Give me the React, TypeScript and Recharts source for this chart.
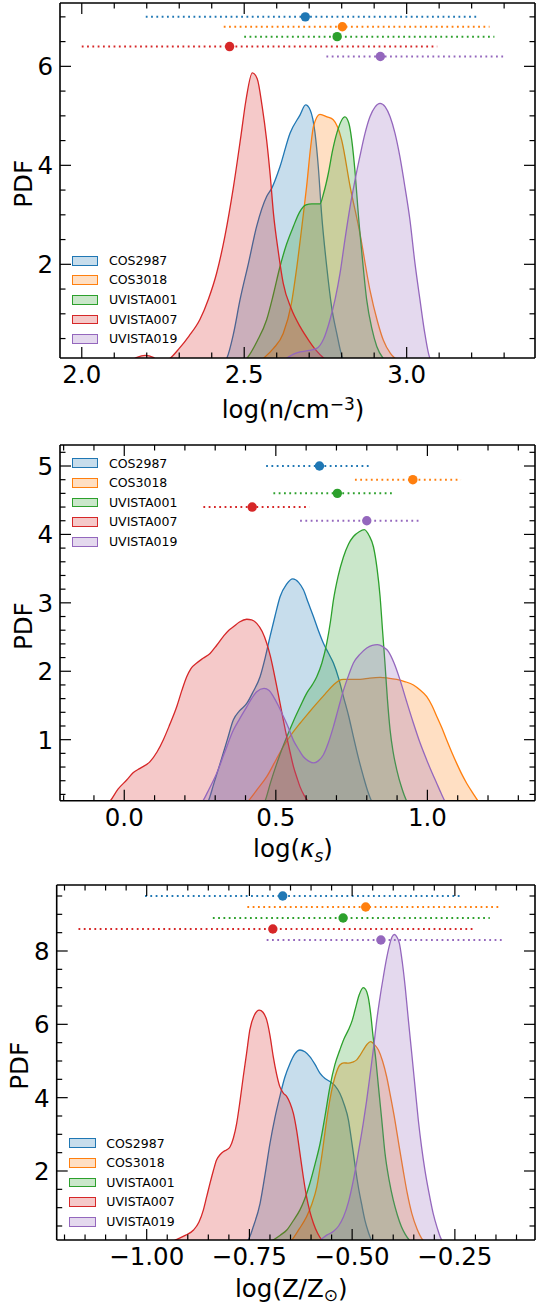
import React from "react";
import { ComposedChart, Area, Line, Scatter, XAxis, YAxis, Legend } from "recharts";

const FONT = "DejaVu Sans, sans-serif";

const names = ["COS2987", "COS3018", "UVISTA001", "UVISTA007", "UVISTA019"];
const colors = ["#1f77b4", "#ff7f0e", "#2ca02c", "#d62728", "#9467bd"];

type Pt = [number, number];

// ---- panel 1: log(n/cm^-3) ----
const nCOS2987: Pt[] = [[2.43, 0], [2.446, 0.1], [2.467, 0.6], [2.487, 1.28], [2.513, 2.02], [2.538, 2.76], [2.569, 3.37], [2.585, 3.54], [2.61, 3.97], [2.641, 4.65], [2.672, 5.02], [2.689, 5.22], [2.703, 5.12], [2.718, 4.65], [2.728, 3.97], [2.738, 3.03], [2.754, 1.95], [2.769, 1.14], [2.785, 0.6], [2.8, 0.16], [2.815, 0]];
const nCOS3018: Pt[] = [[2.54, 0], [2.559, 0.1], [2.59, 0.3], [2.62, 0.6], [2.645, 1.2], [2.662, 1.95], [2.68, 2.9], [2.692, 3.57], [2.705, 4.4], [2.713, 4.78], [2.733, 5.03], [2.755, 4.98], [2.774, 4.92], [2.8, 4.51], [2.826, 3.57], [2.856, 2.63], [2.887, 1.48], [2.91, 0.85], [2.928, 0.47], [2.95, 0.2], [2.964, 0.1], [2.99, 0]];
const nUVISTA001: Pt[] = [[2.49, 0], [2.508, 0.1], [2.54, 0.45], [2.569, 0.88], [2.59, 1.4], [2.61, 1.95], [2.63, 2.4], [2.651, 2.76], [2.67, 3.05], [2.69, 3.2], [2.708, 3.22], [2.733, 3.22], [2.745, 3.45], [2.759, 3.84], [2.772, 4.3], [2.785, 4.65], [2.81, 4.98], [2.822, 4.85], [2.831, 4.51], [2.842, 3.8], [2.851, 3.03], [2.864, 2.1], [2.877, 1.28], [2.893, 0.7], [2.908, 0.34], [2.928, 0.1], [2.95, 0]];
const nUVISTA007: Pt[] = [[2.14, 0], [2.17, 0.12], [2.195, 0.16], [2.22, 0.12], [2.245, 0], [2.272, 0.1], [2.3, 0.3], [2.33, 0.55], [2.364, 0.89], [2.39, 1.3], [2.415, 1.82], [2.44, 2.55], [2.467, 3.57], [2.49, 4.6], [2.505, 5.3], [2.525, 5.87], [2.54, 5.75], [2.555, 5.2], [2.569, 4.51], [2.58, 3.8], [2.59, 3.03], [2.605, 2.25], [2.62, 1.62], [2.645, 1.1], [2.672, 0.74], [2.7, 0.45], [2.72, 0.27], [2.75, 0.08], [2.78, 0]];
const nUVISTA019: Pt[] = [[2.6, 0], [2.63, 0.1], [2.65, 0.18], [2.672, 0.23], [2.7, 0.26], [2.723, 0.3], [2.745, 0.5], [2.764, 0.88], [2.78, 1.3], [2.795, 1.82], [2.81, 2.5], [2.826, 3.17], [2.841, 3.7], [2.856, 4.18], [2.872, 4.65], [2.887, 4.98], [2.903, 5.18], [2.918, 5.25], [2.934, 5.18], [2.949, 4.98], [2.964, 4.65], [2.979, 4.18], [2.995, 3.55], [3.01, 2.9], [3.025, 2.05], [3.041, 1.28], [3.056, 0.6], [3.072, 0.1], [3.09, 0]];
const nErrLow = [2.197, 2.437, 2.5, 2.0, 2.753];
const nErrMid = [2.688, 2.802, 2.786, 2.455, 2.919];
const nErrHigh = [3.218, 3.255, 3.27, 3.094, 3.298];
const nErrLevel = [7.0, 6.8, 6.6, 6.4, 6.2];
const nXMajor = [2.0, 2.5, 3.0];
const nXLabels = ["2.0", "2.5", "3.0"];
const nXMinor = [2.0, 2.1, 2.2, 2.3, 2.4, 2.5, 2.6, 2.7, 2.8, 2.9, 3.0, 3.1, 3.2, 3.3];
const nYMajor = [2, 4, 6];
const nYLabels = ["2", "4", "6"];
const nYMinor = [0.5, 1, 1.5, 2, 2.5, 3, 3.5, 4, 4.5, 5, 5.5, 6, 6.5, 7];

// ---- panel 2: log(kappa_s) ----
const kCOS2987: Pt[] = [[0.26, 0], [0.277, 0.1], [0.295, 0.35], [0.316, 0.65], [0.34, 1.0], [0.36, 1.29], [0.38, 1.42], [0.404, 1.53], [0.425, 1.7], [0.448, 1.92], [0.465, 2.2], [0.481, 2.51], [0.497, 2.8], [0.514, 3.09], [0.535, 3.27], [0.556, 3.35], [0.575, 3.3], [0.591, 3.19], [0.607, 3.0], [0.624, 2.8], [0.64, 2.6], [0.657, 2.41], [0.673, 2.27], [0.69, 2.12], [0.707, 1.9], [0.723, 1.63], [0.74, 1.35], [0.756, 1.04], [0.772, 0.74], [0.789, 0.46], [0.803, 0.25], [0.816, 0.1], [0.83, 0]];
const kCOS3018: Pt[] = [[0.39, 0], [0.409, 0.1], [0.44, 0.28], [0.47, 0.46], [0.5, 0.7], [0.525, 0.9], [0.552, 1.08], [0.58, 1.24], [0.608, 1.39], [0.635, 1.53], [0.663, 1.67], [0.69, 1.8], [0.707, 1.86], [0.723, 1.88], [0.75, 1.88], [0.778, 1.88], [0.81, 1.9], [0.844, 1.91], [0.87, 1.9], [0.899, 1.88], [0.925, 1.85], [0.954, 1.8], [0.975, 1.73], [0.998, 1.63], [1.015, 1.5], [1.031, 1.34], [1.048, 1.17], [1.064, 0.99], [1.08, 0.82], [1.097, 0.65], [1.113, 0.5], [1.13, 0.36], [1.15, 0.22], [1.168, 0.1], [1.19, 0]];
const kUVISTA001: Pt[] = [[0.445, 0], [0.464, 0.1], [0.483, 0.38], [0.503, 0.65], [0.52, 0.86], [0.536, 1.04], [0.558, 1.27], [0.58, 1.48], [0.602, 1.68], [0.62, 1.8], [0.635, 1.92], [0.652, 2.12], [0.668, 2.41], [0.68, 2.72], [0.69, 3.04], [0.705, 3.38], [0.723, 3.67], [0.74, 3.86], [0.756, 3.97], [0.775, 4.04], [0.792, 4.07], [0.808, 3.98], [0.822, 3.82], [0.834, 3.5], [0.844, 3.09], [0.852, 2.6], [0.86, 2.12], [0.868, 1.6], [0.877, 1.14], [0.887, 0.82], [0.899, 0.56], [0.915, 0.3], [0.932, 0.1], [0.95, 0]];
const kUVISTA007: Pt[] = [[-0.07, 0], [-0.047, 0.1], [-0.02, 0.28], [0.008, 0.41], [0.03, 0.52], [0.052, 0.58], [0.085, 0.68], [0.108, 0.82], [0.129, 1.0], [0.15, 1.22], [0.173, 1.48], [0.19, 1.72], [0.206, 1.92], [0.22, 2.04], [0.239, 2.12], [0.26, 2.19], [0.283, 2.26], [0.305, 2.38], [0.327, 2.51], [0.345, 2.6], [0.36, 2.65], [0.38, 2.72], [0.404, 2.76], [0.42, 2.75], [0.437, 2.7], [0.455, 2.58], [0.47, 2.41], [0.482, 2.22], [0.492, 2.02], [0.503, 1.78], [0.514, 1.53], [0.525, 1.28], [0.536, 1.04], [0.547, 0.82], [0.558, 0.61], [0.57, 0.44], [0.58, 0.31], [0.593, 0.19], [0.607, 0.1], [0.625, 0]];
const kUVISTA019: Pt[] = [[0.24, 0], [0.259, 0.1], [0.28, 0.28], [0.305, 0.51], [0.33, 0.8], [0.36, 1.14], [0.38, 1.3], [0.404, 1.48], [0.42, 1.6], [0.437, 1.7], [0.461, 1.75], [0.478, 1.72], [0.492, 1.63], [0.508, 1.5], [0.525, 1.34], [0.542, 1.17], [0.558, 0.99], [0.575, 0.86], [0.591, 0.75], [0.607, 0.69], [0.624, 0.66], [0.64, 0.69], [0.657, 0.78], [0.673, 0.95], [0.69, 1.19], [0.706, 1.45], [0.723, 1.72], [0.74, 1.94], [0.756, 2.12], [0.778, 2.25], [0.8, 2.34], [0.818, 2.38], [0.835, 2.39], [0.853, 2.36], [0.871, 2.29], [0.89, 2.12], [0.91, 1.87], [0.932, 1.55], [0.954, 1.24], [0.976, 0.95], [0.998, 0.7], [1.015, 0.52], [1.031, 0.36], [1.045, 0.22], [1.058, 0.1], [1.075, 0]];
const kErrLow = [0.468, 0.761, 0.492, 0.261, 0.58];
const kErrMid = [0.644, 0.952, 0.703, 0.422, 0.8];
const kErrHigh = [0.816, 1.111, 0.893, 0.611, 0.979];
const kErrLevel = [5.0, 4.8, 4.6, 4.4, 4.2];
const kXMajor = [0.0, 0.5, 1.0];
const kXLabels = ["0.0", "0.5", "1.0"];
const kXMinor = [-0.2, -0.1, 0.0, 0.1, 0.2, 0.3, 0.4, 0.5, 0.6, 0.7, 0.8, 0.9, 1.0, 1.1, 1.2, 1.3];
const kYMajor = [1, 2, 3, 4, 5];
const kYLabels = ["1", "2", "3", "4", "5"];
const kYMinor = [0.2, 0.4, 0.6, 0.8, 1, 1.2, 1.4, 1.6, 1.8, 2, 2.2, 2.4, 2.6, 2.8, 3, 3.2, 3.4, 3.6, 3.8, 4, 4.2, 4.4, 4.6, 4.8, 5, 5.2];

// ---- panel 3: log(Z/Zsun) ----
const zCOS2987: Pt[] = [[-0.77, 0], [-0.753, 0.12], [-0.74, 0.5], [-0.724, 1.12], [-0.712, 1.9], [-0.7, 2.75], [-0.688, 3.45], [-0.676, 4.03], [-0.664, 4.55], [-0.651, 4.94], [-0.639, 5.2], [-0.627, 5.3], [-0.615, 5.25], [-0.603, 5.12], [-0.59, 4.9], [-0.578, 4.66], [-0.566, 4.52], [-0.554, 4.44], [-0.542, 4.33], [-0.53, 4.12], [-0.519, 3.8], [-0.509, 3.39], [-0.503, 2.95], [-0.497, 2.48], [-0.491, 2.0], [-0.485, 1.57], [-0.477, 1.1], [-0.469, 0.66], [-0.461, 0.35], [-0.453, 0.12], [-0.44, 0]];
const zCOS3018: Pt[] = [[-0.665, 0], [-0.647, 0.12], [-0.63, 0.4], [-0.611, 0.75], [-0.598, 1.1], [-0.586, 1.57], [-0.574, 2.4], [-0.562, 3.39], [-0.554, 3.95], [-0.546, 4.39], [-0.538, 4.7], [-0.53, 4.89], [-0.52, 4.95], [-0.509, 4.94], [-0.499, 4.97], [-0.489, 5.03], [-0.481, 5.15], [-0.473, 5.3], [-0.464, 5.45], [-0.455, 5.53], [-0.446, 5.45], [-0.436, 5.3], [-0.426, 5.0], [-0.416, 4.57], [-0.406, 4.0], [-0.396, 3.39], [-0.386, 2.7], [-0.376, 2.03], [-0.366, 1.4], [-0.355, 0.85], [-0.342, 0.42], [-0.328, 0.12], [-0.31, 0]];
const zUVISTA001: Pt[] = [[-0.71, 0], [-0.692, 0.12], [-0.675, 0.25], [-0.659, 0.39], [-0.643, 0.65], [-0.627, 0.94], [-0.615, 1.25], [-0.603, 1.66], [-0.59, 2.2], [-0.578, 2.75], [-0.566, 3.5], [-0.554, 4.3], [-0.542, 4.9], [-0.53, 5.3], [-0.52, 5.6], [-0.509, 5.85], [-0.5, 6.1], [-0.493, 6.39], [-0.483, 6.8], [-0.473, 7.0], [-0.467, 6.95], [-0.461, 6.75], [-0.455, 6.3], [-0.449, 5.66], [-0.442, 5.0], [-0.436, 4.3], [-0.428, 3.4], [-0.42, 2.48], [-0.41, 1.75], [-0.4, 1.21], [-0.39, 0.8], [-0.38, 0.48], [-0.371, 0.28], [-0.361, 0.12], [-0.345, 0]];
const zUVISTA007: Pt[] = [[-0.95, 0], [-0.929, 0.12], [-0.905, 0.25], [-0.886, 0.39], [-0.873, 0.6], [-0.862, 0.94], [-0.854, 1.3], [-0.846, 1.66], [-0.838, 2.0], [-0.83, 2.3], [-0.821, 2.45], [-0.813, 2.53], [-0.805, 2.58], [-0.797, 2.66], [-0.789, 2.9], [-0.781, 3.3], [-0.773, 3.9], [-0.765, 4.57], [-0.757, 5.2], [-0.749, 5.85], [-0.738, 6.25], [-0.726, 6.39], [-0.717, 6.33], [-0.708, 6.12], [-0.7, 5.7], [-0.692, 5.12], [-0.684, 4.65], [-0.676, 4.3], [-0.667, 4.12], [-0.659, 4.03], [-0.651, 3.85], [-0.643, 3.57], [-0.635, 3.1], [-0.627, 2.48], [-0.619, 1.85], [-0.611, 1.3], [-0.603, 0.9], [-0.594, 0.57], [-0.584, 0.3], [-0.574, 0.12], [-0.56, 0]];
const zUVISTA019: Pt[] = [[-0.6, 0], [-0.578, 0.12], [-0.562, 0.25], [-0.546, 0.35], [-0.533, 0.5], [-0.521, 0.75], [-0.509, 1.15], [-0.497, 1.75], [-0.485, 2.5], [-0.473, 3.3], [-0.465, 3.9], [-0.457, 4.57], [-0.448, 5.35], [-0.44, 6.12], [-0.432, 6.75], [-0.424, 7.3], [-0.417, 7.75], [-0.41, 8.12], [-0.403, 8.38], [-0.397, 8.45], [-0.391, 8.38], [-0.385, 8.21], [-0.378, 7.7], [-0.371, 7.03], [-0.363, 6.1], [-0.355, 5.21], [-0.347, 4.3], [-0.339, 3.39], [-0.331, 2.65], [-0.323, 2.03], [-0.313, 1.4], [-0.303, 0.85], [-0.293, 0.45], [-0.282, 0.12], [-0.265, 0]];
const zErrLow = [-1.004, -0.755, -0.839, -1.166, -0.708];
const zErrMid = [-0.669, -0.467, -0.522, -0.693, -0.43];
const zErrHigh = [-0.231, -0.144, -0.165, -0.201, -0.136];
const zErrLevel = [9.5, 9.2, 8.9, 8.6, 8.3];
const zXMajor = [-1.0, -0.75, -0.5, -0.25];
const zXLabels = ["\u22121.00", "\u22120.75", "\u22120.50", "\u22120.25"];
const zXMinor = [-1.2, -1.15, -1.1, -1.05, -1.0, -0.95, -0.9, -0.85, -0.8, -0.75, -0.7, -0.65, -0.6, -0.55, -0.5, -0.45, -0.4, -0.35, -0.3, -0.25, -0.2, -0.15, -0.1];
const zYMajor = [2, 4, 6, 8];
const zYLabels = ["2", "4", "6", "8"];
const zYMinor = [0.5, 1, 1.5, 2, 2.5, 3, 3.5, 4, 4.5, 5, 5.5, 6, 6.5, 7, 7.5, 8, 8.5, 9, 9.5];

const toRows = (pts: Pt[]) => pts.map(([x, y]) => ({ x, y }));

function tint(hex: string, a: number) {
  const r = parseInt(hex.slice(1, 3), 16);
  const g = parseInt(hex.slice(3, 5), 16);
  const b = parseInt(hex.slice(5, 7), 16);
  return `rgba(${r},${g},${b},${a})`;
}

type Side = "bottom" | "top" | "left" | "right";

// matplotlib style inward ticks, labels only on majors of bottom/left
function makeTick(side: Side, majors: number[], labels?: string[]) {
  return (props: any) => {
    const { x, y, payload } = props;
    const idx = majors.findIndex((m) => Math.abs(m - payload.value) < 1e-6);
    const len = idx >= 0 ? 11 : 5.5;
    let x2 = x, y2 = y;
    if (side === "bottom") y2 = y - len;
    if (side === "top") y2 = y + len;
    if (side === "left") x2 = x + len;
    if (side === "right") x2 = x - len;
    return (
      <g>
        <line x1={x} y1={y} x2={x2} y2={y2} stroke="#000" strokeWidth={1.2} />
        {idx >= 0 && labels && side === "bottom" && (
          <text x={x} y={y + 25} textAnchor="middle" fontSize={24.5} fontFamily={FONT} fill="#000">
            {labels[idx]}
          </text>
        )}
        {idx >= 0 && labels && side === "left" && (
          <text x={x - 7} y={y + 9} textAnchor="end" fontSize={24.5} fontFamily={FONT} fill="#000">
            {labels[idx]}
          </text>
        )}
      </g>
    );
  };
}

function LegendBox() {
  return (
    <div style={{ fontFamily: FONT, fontSize: 12.5, color: "#000" }}>
      {names.map((n, i) => (
        <div key={n} style={{ display: "flex", alignItems: "center", height: 19.6 }}>
          <div
            style={{
              width: 26.6,
              height: 9.7,
              boxSizing: "border-box",
              border: `1.4px solid ${colors[i]}`,
              background: tint(colors[i], 0.25),
            }}
          />
          <span style={{ marginLeft: 10.7, lineHeight: "19.6px" }}>{n}</span>
        </div>
      ))}
    </div>
  );
}

interface PanelProps {
  top: number;
  height: number;
  margin: { top: number; right: number; bottom: number; left: number };
  xDomain: [number, number];
  yDomain: [number, number];
  curves: Pt[][];
  errLow: number[];
  errMid: number[];
  errHigh: number[];
  errLevel: number[];
  xMajor: number[];
  xLabels: string[];
  xMinor: number[];
  yMajor: number[];
  yLabels: string[];
  yMinor: number[];
  title: React.ReactNode;
  titleDy: number;
  legendPos: { left: number; top: number };
}

function Panel(p: PanelProps) {
  const frame = { stroke: "#000", strokeWidth: 1.6 };
  const xTitle = (props: any) => {
    const vb = props.viewBox;
    return (
      <text x={vb.x + vb.width / 2 - 4.5} y={vb.y + p.titleDy} textAnchor="middle" fontSize={24.5} fontFamily={FONT} fill="#000">
        {p.title}
      </text>
    );
  };
  const yTitle = (props: any) => {
    const vb = props.viewBox;
    const tx = vb.x + vb.width - 28.3;
    const ty = vb.y + vb.height / 2 + 3.3;
    return (
      <text x={tx} y={ty} transform={`rotate(-90, ${tx}, ${ty})`} textAnchor="middle" fontSize={24.5} fontFamily={FONT} fill="#000">
        PDF
      </text>
    );
  };
  // the 1px axis boxes take their room out of the margins
  const m = { top: p.margin.top - 1, right: p.margin.right - 1, bottom: p.margin.bottom - 1, left: p.margin.left - 1 };
  return (
    <div style={{ position: "absolute", left: 0, top: p.top }}>
      <ComposedChart width={536} height={p.height} margin={m}>
        <XAxis
          xAxisId="b"
          dataKey="x"
          type="number"
          domain={p.xDomain}
          allowDataOverflow
          ticks={p.xMinor}
          interval={0}
          height={1}
          tickSize={0}
          tickMargin={0}
          tickLine={false}
          axisLine={frame}
          tick={makeTick("bottom", p.xMajor, p.xLabels)}
          label={xTitle}
        />
        <XAxis
          xAxisId="t"
          orientation="top"
          dataKey="x"
          type="number"
          domain={p.xDomain}
          allowDataOverflow
          ticks={p.xMinor}
          interval={0}
          height={1}
          tickSize={0}
          tickMargin={0}
          tickLine={false}
          axisLine={frame}
          tick={makeTick("top", p.xMajor)}
        />
        <YAxis
          yAxisId="l"
          dataKey="y"
          type="number"
          domain={p.yDomain}
          allowDataOverflow
          ticks={p.yMinor}
          interval={0}
          width={1}
          tickSize={0}
          tickMargin={0}
          tickLine={false}
          axisLine={frame}
          tick={makeTick("left", p.yMajor, p.yLabels)}
          label={yTitle}
        />
        <YAxis
          yAxisId="r"
          orientation="right"
          dataKey="y"
          type="number"
          domain={p.yDomain}
          allowDataOverflow
          ticks={p.yMinor}
          interval={0}
          width={1}
          tickSize={0}
          tickMargin={0}
          tickLine={false}
          axisLine={frame}
          tick={makeTick("right", p.yMajor)}
        />
        {p.curves.map((c, i) => (
          <Area
            key={`area-${names[i]}`}
            xAxisId="b"
            yAxisId="l"
            data={toRows(c)}
            dataKey="y"
            type="monotone"
            stroke={colors[i]}
            strokeWidth={1.3}
            fill={colors[i]}
            fillOpacity={0.25}
            dot={false}
            activeDot={false}
            isAnimationActive={false}
          />
        ))}
        {names.map((n, i) => (
          <Line
            key={`err-${n}`}
            xAxisId="b"
            yAxisId="l"
            data={[
              { x: p.errLow[i], y: p.errLevel[i] },
              { x: p.errHigh[i], y: p.errLevel[i] },
            ]}
            dataKey="y"
            type="linear"
            stroke={colors[i]}
            strokeWidth={2}
            strokeDasharray="1.8 3.5"
            dot={false}
            activeDot={false}
            isAnimationActive={false}
          />
        ))}
        {names.map((n, i) => (
          <Scatter
            key={`mid-${n}`}
            xAxisId="b"
            yAxisId="l"
            data={[{ x: p.errMid[i], y: p.errLevel[i] }]}
            dataKey="y"
            fill={colors[i]}
            shape={(s: any) => <circle cx={s.cx} cy={s.cy} r={4.7} fill={colors[i]} />}
            isAnimationActive={false}
          />
        ))}
        <Legend
          layout="vertical"
          align="center"
          verticalAlign="middle"
          content={() => <LegendBox />}
          wrapperStyle={{ left: p.legendPos.left, top: p.legendPos.top, width: "auto" }}
        />
      </ComposedChart>
    </div>
  );
}

export default function App() {
  return (
    <div style={{ position: "absolute", left: 0, top: 0, width: 536, height: 1306, background: "#fff" }}>
      <Panel
        top={0}
        height={430}
        margin={{ top: 3, right: 1, bottom: 72, left: 60 }}
        xDomain={[1.933, 3.395]}
        yDomain={[0.107, 7.28]}
        curves={[nCOS2987, nCOS3018, nUVISTA001, nUVISTA007, nUVISTA019]}
        errLow={nErrLow}
        errMid={nErrMid}
        errHigh={nErrHigh}
        errLevel={nErrLevel}
        xMajor={nXMajor}
        xLabels={nXLabels}
        xMinor={nXMinor}
        yMajor={nYMajor}
        yLabels={nYLabels}
        yMinor={nYMinor}
        title={
          <>
            <tspan>log(n/cm</tspan>
            <tspan dy={-8} fontSize={17}>{"\u22123"}</tspan>
            <tspan dy={8}>)</tspan>
          </>
        }
        titleDy={60.3}
        legendPos={{ left: 71.7, top: 250.9 }}
      />
      <Panel
        top={430}
        height={440}
        margin={{ top: 15, right: 1, bottom: 69.3, left: 60 }}
        xDomain={[-0.212, 1.355]}
        yDomain={[0.108, 5.307]}
        curves={[kCOS2987, kCOS3018, kUVISTA001, kUVISTA007, kUVISTA019]}
        errLow={kErrLow}
        errMid={kErrMid}
        errHigh={kErrHigh}
        errLevel={kErrLevel}
        xMajor={kXMajor}
        xLabels={kXLabels}
        xMinor={kXMinor}
        yMajor={kYMajor}
        yLabels={kYLabels}
        yMinor={kYMinor}
        title={
          <>
            <tspan>log(</tspan>
            <tspan fontStyle="italic">{"\u03BA"}</tspan>
            <tspan dy={5} fontSize={17} fontStyle="italic">s</tspan>
            <tspan dy={-5}>)</tspan>
          </>
        }
        titleDy={56.6}
        legendPos={{ left: 71.7, top: 23.5 }}
      />
      <Panel
        top={870}
        height={436}
        margin={{ top: 15, right: 1, bottom: 66, left: 56.7 }}
        xDomain={[-1.219, -0.055]}
        yDomain={[0.118, 9.8]}
        curves={[zCOS2987, zCOS3018, zUVISTA001, zUVISTA007, zUVISTA019]}
        errLow={zErrLow}
        errMid={zErrMid}
        errHigh={zErrHigh}
        errLevel={zErrLevel}
        xMajor={zXMajor}
        xLabels={zXLabels}
        xMinor={zXMinor}
        yMajor={zYMajor}
        yLabels={zYLabels}
        yMinor={zYMinor}
        title={
          <>
            <tspan>log(Z/Z</tspan>
            <tspan dy={4} fontSize={17}>{"\u2299"}</tspan>
            <tspan dy={-4}>)</tspan>
          </>
        }
        titleDy={56.7}
        legendPos={{ left: 69, top: 263.5 }}
      />
    </div>
  );
}
